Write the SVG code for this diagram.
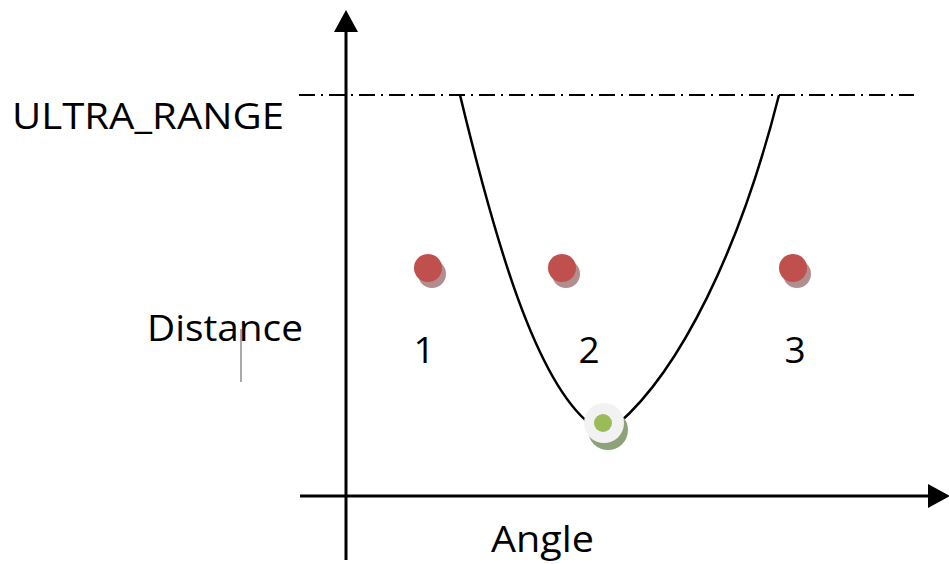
<svg xmlns="http://www.w3.org/2000/svg" width="949" height="564" viewBox="0 0 949 564">
<style>
.t{font-family:"Open Sans","Liberation Sans",sans-serif;font-size:37px;fill:#000}
.ax{stroke:#000;stroke-width:3;fill:none}
.red{fill:#c0504d}
.redsh{fill:#a47a7e;opacity:0.85}
</style>
<defs>
<marker id="ah" markerWidth="24" markerHeight="24" refX="0" refY="12" orient="auto" markerUnits="userSpaceOnUse">
<path d="M0,0 L22,12 L0,24 Z" fill="#000"/>
</marker>
</defs>
<rect width="949" height="564" fill="#fff"/>
<g id="connectors">
<line class="ax" x1="346" y1="560" x2="346" y2="32" marker-end="url(#ah)"/>
<line class="ax" x1="300" y1="496" x2="928" y2="496" marker-end="url(#ah)"/>
<line x1="299" y1="95" x2="914" y2="95" stroke="#000" stroke-width="2" stroke-dasharray="16 6 2 6"/>
<path d="M460,95 C495,240 535,380 590,424 Q604,436 618,424 C680,370 740,250 779,95" fill="none" stroke="#000" stroke-width="2.5"/>
<line x1="241" y1="329" x2="241" y2="382" stroke="#555" stroke-width="1"/>
</g>
<g id="label-ultra"><text class="t" x="12" y="129" textLength="272" lengthAdjust="spacingAndGlyphs">ULTRA_RANGE</text></g>
<g id="label-distance"><text class="t" x="147" y="341" textLength="156" lengthAdjust="spacingAndGlyphs">Distance</text></g>
<g id="label-angle"><text class="t" x="491" y="552" textLength="103" lengthAdjust="spacingAndGlyphs">Angle</text></g>
<g id="p1">
<circle class="redsh" cx="432" cy="274" r="14"/>
<circle class="red" cx="428" cy="268" r="14"/>
<text class="t" x="424" y="363" text-anchor="middle">1</text>
</g>
<g id="p2">
<circle class="redsh" cx="566" cy="274" r="14"/>
<circle class="red" cx="562" cy="268" r="14"/>
<text class="t" x="589" y="363" text-anchor="middle">2</text>
</g>
<g id="p3">
<circle class="redsh" cx="797" cy="274" r="14"/>
<circle class="red" cx="793" cy="268" r="14"/>
<text class="t" x="795" y="363" text-anchor="middle">3</text>
</g>
<g id="target">
<circle cx="608" cy="430" r="20" fill="#8ea27a"/>
<circle cx="604" cy="423" r="20" fill="#f2f2f2"/>
<circle cx="603" cy="423" r="9" fill="#9bbb59"/>
</g>
</svg>
